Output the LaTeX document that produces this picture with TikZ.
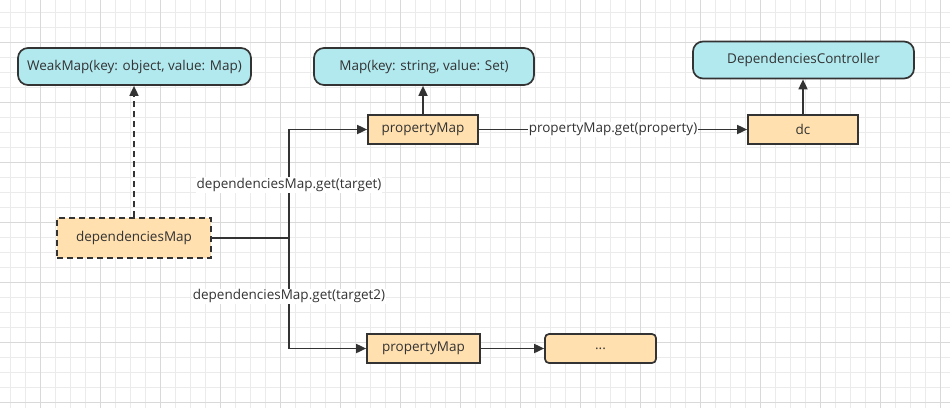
\documentclass[tikz,border=0pt]{standalone}
\usepackage{fontspec}
\setmainfont{Open Sans}
\usetikzlibrary{arrows.meta,positioning}

\definecolor{boxcyan}{HTML}{B1E9EF}
\definecolor{boxorange}{HTML}{FFE0AE}
\definecolor{inkgray}{HTML}{333333}

\begin{document}
\begin{tikzpicture}[x=1pt,y=-1pt,
  font=\fontsize{13.5}{16}\selectfont,
  gridminor/.style={draw=black!8,line width=0.7pt},
  gridmajor/.style={draw=black!15,line width=0.7pt},
  typebox/.style={draw=inkgray,line width=1.7pt,fill=boxcyan,rounded corners=10pt,minimum height=37pt,text=inkgray},
  mapbox/.style={draw=inkgray,line width=1.7pt,fill=boxorange,minimum width=110pt,minimum height=29pt,text=inkgray},
  plainline/.style={draw=inkgray,line width=1.7pt},
  link/.style={plainline,-{Triangle[length=10pt,width=9pt]}},
  getlabel/.style={fill=white,inner sep=1pt,text=inkgray}]
  \useasboundingbox (0,0) rectangle (950,408);
  \fill[white] (0,0) rectangle (950,408);

  % Draw the grid
  \foreach \x in {10,25,...,940} \draw[gridminor] (\x,0) -- (\x,408);
  \foreach \y in {12,27,...,402} \draw[gridminor] (0,\y) -- (950,\y);
  \foreach \x in {40,100,...,940} \draw[gridmajor] (\x,0) -- (\x,408);
  \foreach \y in {42,102,...,402} \draw[gridmajor] (0,\y) -- (950,\y);

  % Draw the type boxes
  \node[typebox,minimum width=233pt] (weakmap) at (134.5,66.5) {WeakMap(key: object, value: Map)};
  \node[typebox,minimum width=220pt] (mapset) at (424,66.5) {Map(key: string, value: Set)};
  \node[typebox,minimum width=221pt] (ctrl) at (803.5,60) {DependenciesController};

  % Draw the maps
  \node[mapbox,dash pattern=on 6pt off 4pt,minimum width=154pt,minimum height=40pt] (depmap) at (134,238) {dependenciesMap};
  \node[mapbox] (propmap) at (423,129.5) {propertyMap};
  \node[mapbox] (dc) at (803,129.5) {dc};
  \node[mapbox,minimum width=113pt] (propmaptwo) at (423.5,348.5) {propertyMap};
  \node[mapbox,rounded corners=4pt,minimum width=111pt] (more) at (600.5,348.5) {...};
  \coordinate (fork) at (289,238);

  % Draw the type arrows
  \draw[link,dash pattern=on 6pt off 4pt] (depmap.north) -- (depmap.north |- weakmap.south);
  \draw[link] (propmap.north) -- (propmap.north |- mapset.south);
  \draw[link] (dc.north) -- (dc.north |- ctrl.south);

  % Draw the lookups
  \draw[plainline] (depmap) -- (fork);
  \draw[link] (fork) |- (propmap) node[getlabel,pos=0.245] {dependenciesMap.get(target)};
  \draw[link] (fork) |- (propmaptwo) node[getlabel,pos=0.264] {dependenciesMap.get(target2)};
  \draw[link] (propmap) -- (dc) node[getlabel,midway] {propertyMap.get(property)};
  \draw[link] (propmaptwo) -- (more);
\end{tikzpicture}
\end{document}
